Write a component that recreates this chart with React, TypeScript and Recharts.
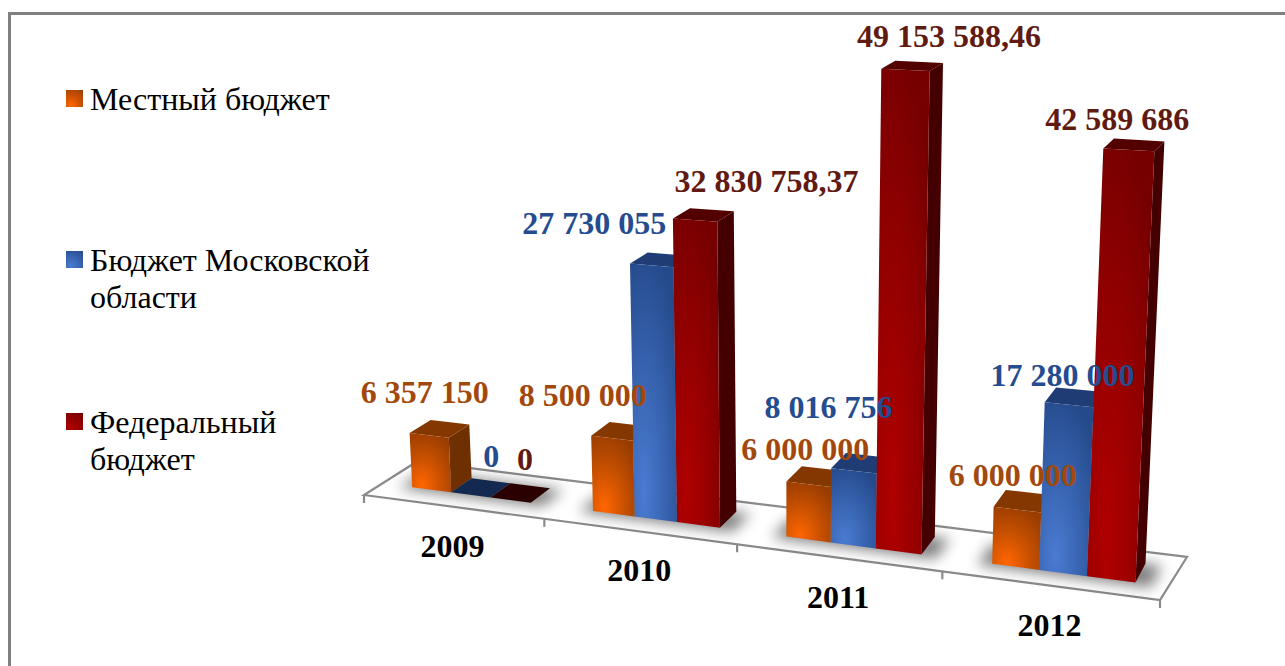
/**
 * BudgetChart — faux-3D bars of funding per year by budget level.
 * Recharts gives the flat bar rects, the shapes below warp them onto the tilted floor.
 */
import { BarChart, Bar, XAxis, YAxis, LabelList } from "recharts";

// ─── Data ─────────────────────────────────────────────────────────────────────

const years = ["2009", "2010", "2011", "2012"];
const localBudget = [6357150, 8500000, 6000000, 6000000];
const regionBudget = [0, 27730055, 8016756, 17280000];
const federalBudget = [0, 32830758.37, 49153588.46, 42589686];
const seriesNames = ["Местный бюджет", "Бюджет Московской области", "Федеральный бюджет"];

const rows = years.map((year, i) => ({
  year,
  local: localBudget[i],
  region: regionBudget[i],
  federal: federalBudget[i],
}));

// ─── Layout / palette ─────────────────────────────────────────────────────────

const WIDTH = 1285;
const HEIGHT = 666;
const PLOT_LEFT = 364;
const PLOT_WIDTH = 796;
const FONT = '"Liberation Serif", "Times New Roman", serif';

const palette = [
  { key: "local", id: "orange", text: "#a2480c", bright: "#ff6600", mid: "#c24e00", dark: "#983c00", side: "#6e3000", top: "#843800", flat: "#843800", mark: "#ff6600" },
  { key: "region", id: "blue", text: "#244c8f", bright: "#4a7bd2", mid: "#3560ab", dark: "#254a8c", side: "#1e3a6e", top: "#1f3d74", flat: "#14294f", mark: "#3f6fc4" },
  { key: "federal", id: "red", text: "#601a10", bright: "#b00000", mid: "#920000", dark: "#760000", side: "#440000", top: "#520000", flat: "#2a0000", mark: "#b00000" },
];

// hand-placed labels in the original, dx/dy from the bar top
const labelNudge = [
  [[-4.5, -42], [-29.5, -42], [-3.5, -34], [-4.5, -34]],
  [[20.5, -38], [-57.5, -41], [-25.5, -63], [-6.5, -29]],
  [[14.5, -40], [71.5, -38], [43.5, -33], [-11.5, -30]],
];

// ─── Projection ───────────────────────────────────────────────────────────────

function warpX(px: number) {
  const t = (px - PLOT_LEFT) / PLOT_WIDTH;
  return PLOT_LEFT + PLOT_WIDTH * (0.125 * t * t + 0.875 * t);
}

function floorY(x: number) {
  return 495 + 0.132 * (x - PLOT_LEFT);
}

// px: flat x, h: flat bar height, depth: 0 front .. 1 back of the bar
function corner(px: number, h: number, depth: number) {
  const t = (px - PLOT_LEFT) / PLOT_WIDTH;
  const xb = warpX(px) + 19.5 - 6 * t;
  const screenH = (h * (8.45 + (xb - 411) * 0.0017 + 0.00105 * h)) / 10;
  const dx = 20.5 - (10.5 * (xb - 452)) / 683;
  const dy = (-14 - (5 * (xb - 452)) / 683) * (1 - screenH / 900);
  return {
    x: xb + (xb - 785) * 1.25e-4 * screenH + dx * depth,
    y: floorY(xb) - 14.2 - screenH + dy * depth,
  };
}

function poly(points: { x: number; y: number }[]) {
  return points.map((p) => `${p.x.toFixed(1)},${p.y.toFixed(1)}`).join(" ");
}

// ─── Shapes ───────────────────────────────────────────────────────────────────

function Bar3D(props: any, s: number) {
  const { x, width, height } = props;
  const c = palette[s];
  const h = Math.abs(height);
  const right = x + width;
  const topFace = [corner(x, h, 0), corner(right, h, 0), corner(right, h, 1), corner(x, h, 1)];
  if (h < 1) {
    return <polygon points={poly(topFace)} fill={c.flat} />;
  }
  return (
    <g>
      <polygon
        points={poly([corner(right, 0, 0), corner(right, h, 0), corner(right, h, 1), corner(right, 0, 1)])}
        fill={c.side}
      />
      <polygon points={poly(topFace)} fill={c.top} />
      <polygon
        points={poly([corner(x, h, 0), corner(right, h, 0), corner(right, 0, 0), corner(x, 0, 0)])}
        fill={`url(#front-${c.id})`}
      />
    </g>
  );
}

function GroupShadow(props: any) {
  const { x, width } = props;
  const right = x + width;
  return (
    <polygon
      points={poly([corner(x - 12, 0, -0.15), corner(right + 14, 0, -0.15), corner(right + 14, 0, 1), corner(x - 12, 0, 1)])}
      fill="#000"
      opacity={0.5}
      filter="url(#floor-blur)"
    />
  );
}

function Floor() {
  const frontL = { x: PLOT_LEFT, y: floorY(PLOT_LEFT) };
  const frontR = { x: PLOT_LEFT + PLOT_WIDTH, y: floorY(PLOT_LEFT + PLOT_WIDTH) };
  const backL = { x: 417, y: 461.5 };
  const backR = { x: 1187, y: 557 };
  const band = PLOT_WIDTH / years.length;
  const ticks = [0, 1, 2, 3, 4].map((i) => warpX(PLOT_LEFT + i * band));
  return (
    <g>
      <polygon points={poly([frontL, frontR, backR, backL])} fill="#fff" stroke="#8a8a8a" strokeWidth={2.2} />
      {ticks.map((x) => (
        <line key={x} x1={x} x2={x} y1={floorY(x)} y2={floorY(x) + 8} stroke="#8a8a8a" strokeWidth={2.2} />
      ))}
    </g>
  );
}

function YearTick({ x, payload }: any) {
  const sx = warpX(x);
  return (
    <text x={sx} y={floorY(sx) + 50} textAnchor="middle" fontFamily={FONT} fontWeight="bold" fontSize={32} fill="#000">
      {payload.value}
    </text>
  );
}

function formatValue(v: number) {
  const [whole, frac] = String(v).split(".");
  const grouped = whole.replace(/\B(?=(\d{3})+$)/g, " ");
  return frac ? `${grouped},${frac}` : grouped;
}

function BarLabel(props: any, s: number) {
  const { x, width, height, value, index } = props;
  const top = corner(x + width / 2, Math.abs(height), 0);
  const [dx, dy] = labelNudge[s][index];
  return (
    <text
      x={top.x + dx}
      y={top.y + dy + 10}
      textAnchor="middle"
      fontFamily={FONT}
      fontWeight="bold"
      fontSize={32}
      fill={palette[s].text}
    >
      {formatValue(value)}
    </text>
  );
}

// ─── Legend ───────────────────────────────────────────────────────────────────

function BudgetLegend() {
  const tops = [81, 242, 404];
  return (
    <>
      {seriesNames.map((name, i) => (
        <div
          key={name}
          style={{ position: "absolute", left: 90, top: tops[i], width: 285, fontFamily: FONT, fontSize: 32, lineHeight: "37px", color: "#000" }}
        >
          <span
            style={{
              position: "absolute",
              left: -24,
              top: 9,
              width: 17,
              height: 17,
              background: `radial-gradient(circle at 30% 90%, ${palette[i].bright}, ${palette[i].dark})`,
            }}
          />
          {name}
        </div>
      ))}
    </>
  );
}

// ─── Component ────────────────────────────────────────────────────────────────

export default function App() {
  return (
    <div style={{ position: "absolute", left: 0, top: 0, width: WIDTH, height: HEIGHT, overflow: "hidden", background: "#fff" }}>
      <div style={{ position: "absolute", left: 8, top: 12, right: 0, bottom: 0, borderTop: "3px solid #808080", borderLeft: "3px solid #808080" }} />
      <BudgetLegend />
      <div style={{ position: "absolute", left: 0, top: 0 }}>
        <BarChart
          width={WIDTH}
          height={HEIGHT}
          data={rows}
          barCategoryGap="16.5%"
          barGap={0}
          margin={{ top: 66, right: WIDTH - PLOT_LEFT - PLOT_WIDTH, bottom: 70, left: PLOT_LEFT }}
        >
          <defs>
            {palette.map((c) => (
              <radialGradient key={c.id} id={`front-${c.id}`} cx="0.3" cy="0.88" r="0.95">
                <stop offset="0%" stopColor={c.bright} />
                <stop offset="55%" stopColor={c.mid} />
                <stop offset="100%" stopColor={c.dark} />
              </radialGradient>
            ))}
            <filter id="floor-blur" x="-20%" y="-60%" width="140%" height="220%">
              <feGaussianBlur stdDeviation="7" />
            </filter>
          </defs>
          <Floor />
          <XAxis dataKey="year" axisLine={false} tickLine={false} height={30} tick={<YearTick />} interval={0} />
          <XAxis xAxisId="floor" dataKey="year" hide />
          <YAxis hide domain={[0, 50000000]} />
          <Bar xAxisId="floor" dataKey="local" shape={GroupShadow} isAnimationActive={false} legendType="none" />
          {palette.map((c, s) => (
            <Bar
              key={c.key}
              dataKey={c.key}
              name={seriesNames[s]}
              fill={c.mark}
              shape={(p: any) => Bar3D(p, s)}
              isAnimationActive={false}
            >
              <LabelList dataKey={c.key} content={(p: any) => BarLabel(p, s)} />
            </Bar>
          ))}
        </BarChart>
      </div>
    </div>
  );
}
